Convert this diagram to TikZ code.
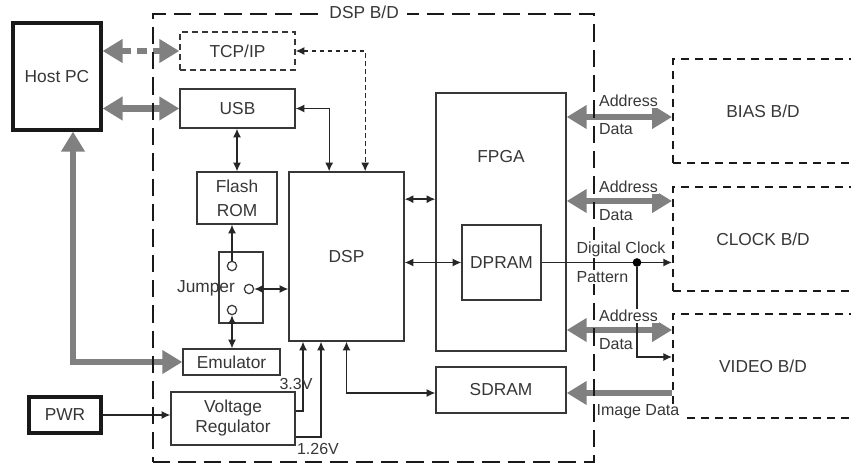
\documentclass[tikz,border=0pt]{standalone}
\usepackage{fontspec}
\setmainfont{Liberation Sans}
\usetikzlibrary{arrows.meta}
\definecolor{busgray}{RGB}{128,128,128}
\definecolor{inkgray}{RGB}{55,55,55}

\begin{document}
\begin{tikzpicture}[
  x=0.75pt, y=-0.75pt,
  blk/.style={draw=inkgray, line width=1pt, fill=white, text=inkgray,
              font=\fontsize{13}{15}\selectfont, align=center, inner sep=2pt},
  blkk/.style={blk, draw=black!90, line width=2.4pt},
  blkd/.style={blk, dash pattern=on 4.5pt off 3pt},
  brd/.style={draw=black!90, line width=1.4pt, dash pattern=on 6pt off 4.5pt,
              text=inkgray, font=\fontsize{13}{15}\selectfont,
              minimum width=135pt, minimum height=78pt},
  frame/.style={draw=black!90, line width=1.8pt, dash pattern=on 13pt off 6pt},
  pin/.style={circle, draw=inkgray, line width=0.9pt, fill=white,
              minimum size=7pt, inner sep=0pt},
  dot/.style={circle, fill=black, minimum size=6.5pt, inner sep=0pt},
  txt/.style={text=inkgray, font=\fontsize{13}{15}\selectfont, inner sep=1pt},
  sig/.style={text=inkgray, font=\fontsize{12}{14}\selectfont, fill=white, inner sep=1pt},
  arr/.style={{Latex[length=6.5pt,width=6pt]}-{Latex[length=6.5pt,width=6pt]},
              line width=1pt, black!85},
  arr1/.style={-{Latex[length=6.5pt,width=6pt]}, line width=1pt, black!85},
  bus/.style={{Triangle[length=15pt,width=17pt]}-{Triangle[length=15pt,width=17pt]},
              line width=4.8pt, busgray},
  bus1/.style={-{Triangle[length=15pt,width=17pt]}, line width=4.8pt, busgray},
  busd/.style={bus, dash pattern=on 7pt off 5pt},
]
\useasboundingbox (0,0) rectangle (851,467);

% ---- Outside the board ------------------------------------------------------
\node[blkk, minimum width=66pt, minimum height=80.25pt] (host) at (57,76.5) {Host PC};
\node[blkk, minimum width=54pt, minimum height=27pt] (pwr) at (65,415) {PWR};

% ---- DSP board blocks -------------------------------------------------------
\node[blkd, minimum width=86.25pt, minimum height=28.5pt] (tcp) at (237.5,51) {TCP/IP};
\node[blk, minimum width=86.25pt, minimum height=29.25pt] (usb) at (237.5,108.5) {USB};
\node[blk, minimum width=60pt, minimum height=39pt] (flash) at (237,198) {Flash\\[3pt]ROM};
\node[blk, minimum width=33pt, minimum height=53.25pt] (jmp) at (241,287.5) {};
\node[pin] (j1) at (232,266) {};
\node[pin] (j2) at (249,289) {};
\node[pin] (j3) at (232,310) {};
\node[txt] (jtxt) at (206,288) {Jumper};
\node[blk, minimum width=86.25pt, minimum height=126.75pt] (dsp) at (346.5,256.5) {DSP};
\node[blk, minimum width=72.75pt, minimum height=19.5pt] (emu) at (231.5,362) {Emulator};
\node[blk, minimum width=93pt, minimum height=39.75pt] (vreg) at (233,418.5) {Voltage\\Regulator};
\node[blk, minimum width=97.5pt, minimum height=193.5pt] (fpga) at (501,222) {};
\node[txt] (fpgatxt) at (501,157) {FPGA};
\node[blk, minimum width=59.25pt, minimum height=56.25pt] (dpram) at (501.5,262.5) {DPRAM};
\node[blk, minimum width=97.5pt, minimum height=34.5pt] (sdram) at (501,390) {SDRAM};

% ---- Other boards (cut at the right edge) -----------------------------------
\begin{scope}
  \clip (0,0) rectangle (851,467);
  \node[brd] (bias) at (763,111) {BIAS B/D};
  \node[brd] (clk) at (763,239) {CLOCK B/D};
  \node[brd] (video) at (763,366) {VIDEO B/D};
\end{scope}

% ---- Host PC / power links --------------------------------------------------
\draw[busd] (host.east |- tcp.west) -- (tcp.west);
\draw[bus] (host.east |- usb.west) -- (usb.west);
\draw[bus] ([xshift=12pt]host.south) |- (emu.west);
\draw[arr1] (pwr.east) -- (pwr.east -| vreg.west);

% ---- Links on the DSP board -------------------------------------------------
\draw[arr] (usb.east) -| ([xshift=-13pt]dsp.north);
\draw[arr, dash pattern=on 3.5pt off 2.5pt] (tcp.east) -| ([xshift=14pt]dsp.north);
\draw[arr] (flash.north) -- (flash.north |- usb.south);
\draw[arr1] (j1.north) -- (j1.north |- flash.south);
\draw[arr] (j2.east) -- (j2.east -| dsp.west);
\draw[arr] (j3.south) -- (j3.south |- emu.north);
\draw[arr1] ([yshift=5.6pt]vreg.east) -| ([xshift=-32.6pt]dsp.south);
\draw[arr1] ([yshift=-13.9pt]vreg.east) -| ([xshift=-19.1pt]dsp.south);
\node[sig, fill=none] (v33) at (296,384) {3.3V};
\node[sig, fill=none] (v126) at (318,449) {1.26V};
\draw[arr] (dsp.south) |- ([yshift=-2.25pt]sdram.west);
\draw[arr] ([yshift=43pt]dsp.east) -- ([yshift=43pt]dsp.east -| fpga.west);
\draw[arr] (dsp.east |- dpram.west) -- (dpram.west);

% ---- FPGA to the boards -----------------------------------------------------
\coordinate (abias) at ([yshift=-4.5pt]bias.west);
\coordinate (aclk) at ([yshift=28.5pt]clk.west);
\coordinate (avid) at ([yshift=27pt]video.west);
\draw[bus] (fpga.east |- abias) -- (abias);
\draw[bus] (fpga.east |- aclk) -- (aclk);
\draw[bus] (fpga.east |- avid) -- (avid);
\draw[arr1] (dpram.east) -- (dpram.east -| clk.west);
\node[dot] (tap) at (637,262.5) {};
\draw[arr1] (tap) |- ([yshift=6.75pt]video.west);
\coordinate (img) at ([yshift=-2.25pt]sdram.east);
\draw[bus1] (video.west |- img) -- (img);

% ---- DSP B/D frame ----------------------------------------------------------
\node[frame, minimum width=330.75pt, minimum height=336pt] (dspbd) at (373.5,238) {};
\node[sig, inner xsep=6pt, font=\fontsize{13}{15}\selectfont] (dsplbl)
  at ([xshift=-7pt]dspbd.north) {DSP B/D};

% ---- Bus labels -------------------------------------------------------------
\node[sig, anchor=west] (la1) at (597.5,101) {Address};
\node[sig, anchor=west] (ld1) at (597.5,129) {Data};
\node[sig, anchor=west] (la2) at (597.5,187) {Address};
\node[sig, anchor=west] (ld2) at (597.5,215) {Data};
\node[sig, anchor=west] (la3) at (597.5,316) {Address};
\node[sig, anchor=west] (ld3) at (597.5,344) {Data};
\node[sig, anchor=west] (ldc) at (575,249) {Digital Clock};
\node[sig, anchor=west] (lpat) at (575,277) {Pattern};
\node[sig, anchor=west] (limg) at (595,412) {Image Data};

\end{tikzpicture}
\end{document}
